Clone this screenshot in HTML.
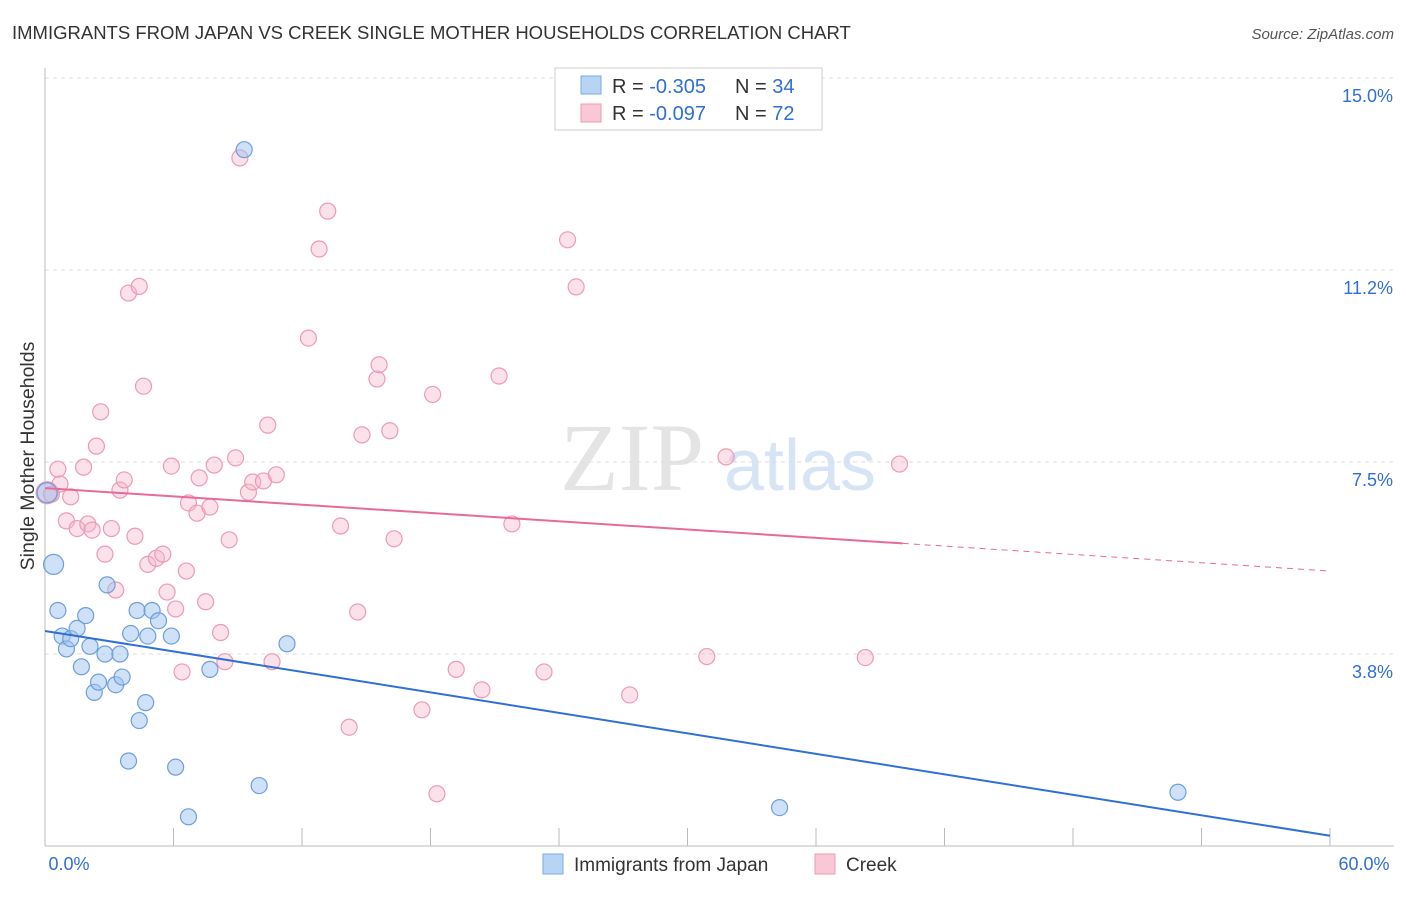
<!DOCTYPE html>
<html><head><meta charset="utf-8"><style>
body{margin:0;background:#fff;font-family:"Liberation Sans",sans-serif}
</style></head><body>
<svg id="c" width="1406" height="892" xmlns="http://www.w3.org/2000/svg">
<text x="12" y="39" font-size="18.5" fill="#333">IMMIGRANTS FROM JAPAN VS CREEK SINGLE MOTHER HOUSEHOLDS CORRELATION CHART</text>
<text x="1394" y="39" font-size="15" fill="#555" text-anchor="end" font-style="italic">Source: ZipAtlas.com</text>
<text x="632" y="490" font-size="96" fill="#e4e4e4" font-family="Liberation Serif,serif" text-anchor="middle">ZIP</text>
<text x="800" y="490" font-size="72" fill="#d6e4f5" text-anchor="middle">atlas</text>
<text x="34" y="456" font-size="19.5" fill="#333" text-anchor="middle" transform="rotate(-90 34 456)">Single Mother Households</text>
<g id="grid"></g><g id="marks"></g>
<g>
<rect x="555" y="68" width="267" height="62" fill="#fff" stroke="#ccc"/>
<rect x="581" y="76" width="20" height="18" fill="#b8d4f4" stroke="#7aa9e0"/>
<rect x="581" y="104" width="20" height="18" fill="#f9c8d6" stroke="#ee9ab3"/>
<text x="612" y="93" font-size="20" fill="#333">R = <tspan fill="#2f6fd6">-0.305</tspan></text>
<text x="735" y="93" font-size="20" fill="#333">N = <tspan fill="#2f6fd6">34</tspan></text>
<text x="612" y="120" font-size="20" fill="#333">R = <tspan fill="#2f6fd6">-0.097</tspan></text>
<text x="735" y="120" font-size="20" fill="#333">N = <tspan fill="#2f6fd6">72</tspan></text>
</g>
<g>
<rect x="543" y="854" width="20" height="20" fill="#b8d4f4" stroke="#7aa9e0"/>
<text x="574" y="871" font-size="19" fill="#333">Immigrants from Japan</text>
<rect x="815" y="854" width="20" height="20" fill="#f9c8d6" stroke="#ee9ab3"/>
<text x="846" y="871" font-size="19" fill="#333">Creek</text>
</g>
</svg>
<script>
const yTicks=[3.75,7.5,11.25,15];
const yTickLabels=["3.8%","7.5%","11.2%","15.0%"];
const xTickLabels=["0.0%","60.0%"];
const japanX=[0.1,0.4,0.6,0.8,1.0,1.2,1.5,1.7,1.9,2.1,2.3,2.5,2.8,2.9,3.3,3.5,3.6,3.9,4.0,4.3,4.4,4.7,4.8,5.0,5.3,5.9,6.1,6.7,7.7,9.3,10.0,11.3,34.3,52.9];
const japanY=[6.9,5.5,4.6,4.1,3.85,4.05,4.25,3.5,4.5,3.9,3.0,3.2,3.75,5.1,3.15,3.75,3.3,1.66,4.15,4.6,2.45,2.8,4.1,4.6,4.4,4.1,1.54,0.57,3.45,13.6,1.18,3.95,0.75,1.05];
const creekX=[0.1,0.3,0.6,0.7,1.0,1.2,1.5,1.8,2.0,2.2,2.4,2.6,2.8,3.1,3.3,3.5,3.7,3.9,4.2,4.4,4.6,4.8,5.2,5.5,5.7,5.9,6.1,6.4,6.6,6.7,7.1,7.2,7.5,7.7,7.9,8.2,8.4,8.6,8.9,9.1,9.5,9.7,10.2,10.4,10.6,10.8,12.3,12.8,13.2,13.8,14.2,14.6,14.8,15.5,15.6,16.1,16.3,17.6,18.1,18.3,19.2,20.4,21.2,21.8,23.3,24.4,24.8,27.3,30.9,31.8,38.3,39.9];
const creekY=[6.9,6.87,7.36,7.07,6.35,6.82,6.2,7.4,6.29,6.17,7.81,8.48,5.7,6.2,5.0,6.95,7.15,10.8,6.05,10.93,8.98,5.5,5.62,5.7,4.96,7.42,4.63,3.4,5.37,6.7,6.5,7.19,4.77,6.62,7.44,4.17,3.6,5.98,7.58,13.44,6.91,7.11,7.13,8.22,3.6,7.25,9.92,11.66,12.4,6.25,2.32,4.57,8.03,9.12,9.4,8.11,6.0,2.66,8.82,1.02,3.45,3.05,9.18,6.29,3.4,11.84,10.92,2.95,3.7,7.6,3.68,7.46];
const NS="http://www.w3.org/2000/svg";
const X=v=>45+v*(1285/60), Y=v=>846-v*51.2;
const grid=document.getElementById('grid'), marks=document.getElementById('marks');
function mk(t,a,p){const e=document.createElementNS(NS,t);for(const k in a)e.setAttribute(k,a[k]);p.appendChild(e);return e;}
yTicks.forEach((t,i)=>{
 const l=mk('line',{x1:45,x2:1394,y1:Y(t),y2:Y(t),stroke:'#ddd','stroke-dasharray':'4,4'},grid);
 
 
 const tx=mk('text',{x:1393,y:Y(t)+24,'font-size':18,fill:'#2f6fd6','text-anchor':'end'},grid);
 tx.textContent=yTickLabels[i];
 
 
});
const ax=mk('line',{x1:45,x2:45,y1:68,y2:846,stroke:'#bbb'},grid);


const xa=mk('line',{x1:45,x2:1394,y1:846,y2:846,stroke:'#bbb'},grid);


for(let i=0;i<=10;i++){const xx=45+i*128.5;mk('line',{x1:xx,x2:xx,y1:828,y2:846,stroke:'#bbb'},grid);}
[[0,69],[60,1364]].forEach((d,i)=>{const t=mk('text',{x:d[1],y:870,'font-size':18,fill:'#2f6fd6','text-anchor':'middle'},grid);t.textContent=xTickLabels[i];
 
 });
creekX.forEach((x,i)=>{const c=mk('circle',{cx:X(x),cy:Y(creekY[i]),r:i==0?11:8,fill:'rgba(246,180,200,0.4)',stroke:'#ee9ab3','stroke-width':1.2},marks);
 
 });
japanX.forEach((x,i)=>{const c=mk('circle',{cx:X(x),cy:Y(japanY[i]),r:i<2?10:8,fill:'rgba(160,196,240,0.5)',stroke:'#6d9fdc','stroke-width':1.2},marks);
 
 });
const bl=mk('line',{x1:X(0),y1:Y(4.2),x2:X(60),y2:Y(0.2),stroke:'#2f6fd6','stroke-width':2},marks);


const pl=mk('line',{x1:X(0),y1:Y(6.99),x2:X(40.05),y2:Y(5.91),stroke:'#e8699a','stroke-width':2},marks);


const pd=mk('line',{x1:X(40.05),y1:Y(5.91),x2:X(60),y2:Y(5.37),stroke:'#e8699a','stroke-width':1,'stroke-dasharray':'6,5'},marks);


</script>
</body></html>
